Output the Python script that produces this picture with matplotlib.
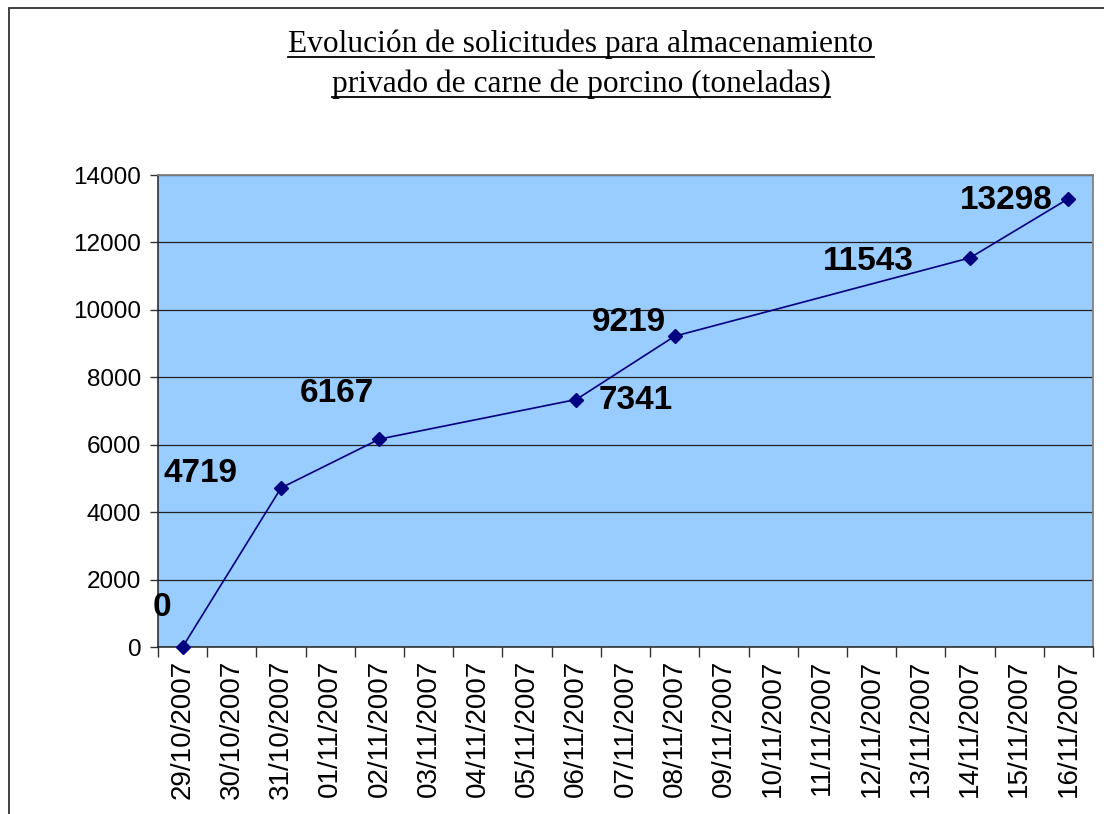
import matplotlib
matplotlib.use("Agg")
import matplotlib.pyplot as plt
from matplotlib.patches import Rectangle
from matplotlib.lines import Line2D

# datos
fechas = ["29/10/2007", "30/10/2007", "31/10/2007", "01/11/2007", "02/11/2007",
          "03/11/2007", "04/11/2007", "05/11/2007", "06/11/2007", "07/11/2007",
          "08/11/2007", "09/11/2007", "10/11/2007", "11/11/2007", "12/11/2007",
          "13/11/2007", "14/11/2007", "15/11/2007", "16/11/2007"]
idx_puntos = [0, 2, 4, 8, 10, 16, 18]
toneladas = [0, 4719, 6167, 7341, 9219, 11543, 13298]

titulo = ["Evolución de solicitudes para almacenamiento",
          "privado de carne de porcino (toneladas)"]

# desplazamientos de las etiquetas (pixeles)
offsets = [(-21, 39), (-81, 14), (-43, 46), (59, -1), (-46, 14), (-102, -4), (-62, -2)]

W, H = 1104, 814
fig = plt.figure(figsize=(W / 100, H / 100), dpi=100)
fig.patch.set_facecolor("white")

# marco de la figura
fig.add_artist(Rectangle((9 / W, -0.1), 1.2, 1 - 8 / H + 0.1, transform=fig.transFigure,
                         fill=False, edgecolor="#333333", linewidth=1.3))

ax = fig.add_axes([158 / W, 1 - 647 / H, (1093 - 158) / W, (647 - 175) / H])
ax.set_facecolor("#99CCFF")

ax.plot(idx_puntos, toneladas, color="#000080", lw=1.2, marker="D", ms=7,
        mfc="#000080", mec="#000080", zorder=3, clip_on=False)

for i, (x, y) in enumerate(zip(idx_puntos, toneladas)):
    ax.annotate(str(y), (x, y), xytext=offsets[i], textcoords="offset pixels",
                ha="center", va="center", fontsize=24, fontweight="bold",
                family="Liberation Sans", color="black", zorder=4)

ax.set_xlim(-0.5, len(fechas) - 0.5)
ax.set_ylim(0, 14000)
ax.set_yticks(range(0, 14001, 2000))
ax.set_yticklabels([str(v) for v in range(0, 14001, 2000)], family="Liberation Sans", fontsize=17.5)
ax.tick_params(axis="y", direction="out", length=6, width=1, pad=6, color="#333333")

ax.set_xticks(range(len(fechas)))
ax.set_xticklabels(fechas, rotation=90, family="Liberation Sans", fontsize=20)
ax.tick_params(axis="x", which="major", length=0, pad=9)
ax.set_xticks([i - 0.5 for i in range(len(fechas) + 1)], minor=True)
ax.tick_params(axis="x", which="minor", direction="out", length=7, width=1, color="#333333")

ax.grid(axis="y", color="#222222", lw=0.9)
ax.set_axisbelow(True)
for s in ["top", "right"]:
    ax.spines[s].set_color("#808080")
    ax.spines[s].set_linewidth(1.3)
for s in ["left", "bottom"]:
    ax.spines[s].set_color("#222222")
    ax.spines[s].set_linewidth(1.1)

# titulo subrayado
ys = [1 - 52 / H, 1 - 92 / H]
fig.canvas.draw()
r = fig.canvas.get_renderer()
for txt, y in zip(titulo, ys):
    t = fig.text(581 / W, y, txt, ha="center", va="baseline", fontsize=22.6,
                 family="Liberation Serif")
    bb = t.get_window_extent(renderer=r)
    yl = y - 5 / H
    fig.add_artist(Line2D([bb.x0 / W, bb.x1 / W], [yl, yl], transform=fig.transFigure,
                          color="black", lw=1.3))

fig.savefig("out.png", dpi=100)
